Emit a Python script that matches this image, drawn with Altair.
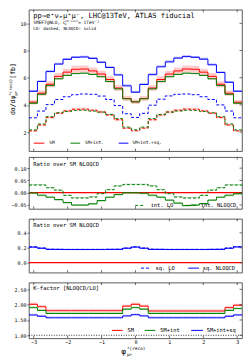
import altair as alt
import numpy as np
import pandas as pd

MONO = "DejaVu Sans Mono"
RED, GREEN, BLUE = "#ff0000", "#008000", "#0000ff"
FRAME = "#333333"

n_bins = 25
edges = np.linspace(-np.pi, np.pi, n_bins + 1)
x_ticks = [-3, -2, -1, 0, 1, 2, 3]

# ---- main panel: dsigma/dphi [fb] ----
sm_nlo = [4.20, 4.86, 5.52, 6.10, 6.41, 6.62, 6.64, 6.50, 6.27, 5.87, 5.24, 4.47, 4.23,
          4.47, 5.24, 5.87, 6.27, 6.50, 6.64, 6.62, 6.41, 6.10, 5.52, 4.86, 4.20]
smint_nlo = [4.12, 4.78, 5.42, 5.92, 6.17, 6.30, 6.33, 6.24, 6.07, 5.72, 5.18, 4.45, 4.22,
             4.45, 5.18, 5.72, 6.07, 6.24, 6.33, 6.30, 6.17, 5.92, 5.42, 4.78, 4.12]
full_nlo = [5.00, 5.72, 6.45, 7.00, 7.35, 7.50, 7.52, 7.42, 7.13, 6.75, 6.20, 5.40, 4.93,
            5.50, 6.22, 6.80, 7.16, 7.44, 7.55, 7.50, 7.36, 6.95, 6.38, 5.66, 5.00]
sm_lo = [2.09, 2.52, 3.07, 3.39, 3.56, 3.68, 3.69, 3.61, 3.48, 3.26, 2.91, 2.29, 2.10,
         2.29, 2.91, 3.26, 3.48, 3.61, 3.69, 3.68, 3.56, 3.39, 3.07, 2.52, 2.09]
smint_lo = [2.16, 2.60, 3.13, 3.42, 3.52, 3.60, 3.61, 3.55, 3.47, 3.30, 2.99, 2.37, 2.17,
            2.37, 2.99, 3.30, 3.47, 3.55, 3.61, 3.60, 3.52, 3.42, 3.13, 2.60, 2.16]
full_lo = [3.05, 3.55, 4.02, 4.40, 4.60, 4.75, 4.80, 4.78, 4.65, 4.40, 3.95, 3.35, 3.08,
           3.38, 3.98, 4.42, 4.66, 4.78, 4.80, 4.75, 4.60, 4.40, 4.00, 3.55, 3.05]
sm_nlo_unc = 0.04     # relative half-width of the NLO scale band
sm_lo_unc = 0.03

# ---- ratio panel: interference over SM NLOQCD ----
int_lo_ratio = [0.031, 0.031, 0.020, 0.010, -0.011, -0.022, -0.022, -0.018, -0.004, 0.012,
                0.027, 0.033, 0.033, 0.033, 0.027, 0.012, -0.004, -0.018, -0.022, -0.022,
                -0.011, 0.010, 0.020, 0.031, 0.031]
int_nlo_ratio = [-0.001, -0.010, -0.018, -0.028, -0.040, -0.050, -0.050, -0.045, -0.032,
                 -0.018, -0.007, 0.000, 0.000, -0.002, -0.010, -0.018, -0.030, -0.042,
                 -0.052, -0.050, -0.044, -0.030, -0.018, -0.010, -0.004]

# ---- ratio panel: squared over SM NLOQCD ----
sq_lo_ratio = [0.212, 0.196, 0.180, 0.179, 0.178, 0.178, 0.178, 0.178, 0.178, 0.179, 0.180,
               0.196, 0.212, 0.196, 0.180, 0.179, 0.178, 0.178, 0.178, 0.178, 0.178, 0.179,
               0.180, 0.196, 0.214]
sq_nlo_ratio = [0.208, 0.193, 0.178, 0.177, 0.176, 0.176, 0.176, 0.176, 0.176, 0.177, 0.178,
                0.193, 0.208, 0.193, 0.178, 0.177, 0.176, 0.176, 0.176, 0.176, 0.176, 0.177,
                0.178, 0.193, 0.210]

# ---- K-factor NLOQCD/LO ----
k_sm = [2.01, 1.93, 1.80, 1.80, 1.80, 1.80, 1.80, 1.80, 1.80, 1.80, 1.80, 1.95, 2.01,
        1.95, 1.79, 1.79, 1.79, 1.79, 1.79, 1.79, 1.79, 1.79, 1.79, 1.90, 1.98]
k_smint = [1.90, 1.81, 1.71, 1.71, 1.71, 1.71, 1.71, 1.71, 1.71, 1.71, 1.71, 1.85, 1.90,
           1.85, 1.71, 1.71, 1.71, 1.71, 1.71, 1.71, 1.71, 1.71, 1.71, 1.81, 1.87]
k_full = [1.66, 1.62, 1.57, 1.57, 1.57, 1.57, 1.57, 1.57, 1.57, 1.57, 1.57, 1.63, 1.67,
          1.63, 1.57, 1.57, 1.57, 1.57, 1.57, 1.57, 1.57, 1.57, 1.57, 1.62, 1.66]

# ---------------- layout ----------------
W = 214
H1, H2, H3, H4 = 142, 52, 54, 56
REFW = 220.6
one = pd.DataFrame({"k": [0]})
xsc = alt.Scale(domain=[-np.pi, np.pi], nice=False, zero=False)


def step(vals):
    v = list(vals)
    return pd.DataFrame({"x": edges, "y": v + [v[-1]]})


def band(lo, hi):
    lo, hi = list(lo), list(hi)
    return pd.DataFrame({"x": edges, "lo": lo + [lo[-1]], "hi": hi + [hi[-1]]})


def px(xref):
    return xref * W / REFW


class Panel:
    def __init__(self, H, ydom, yvals, yfmt, xaxis=False):
        self.H = H
        self.ysc = alt.Scale(domain=ydom, nice=False, zero=False)
        self.yax = alt.Axis(values=yvals, format=yfmt, labelFont=MONO, labelFontSize=5,
                            labelColor="black", tickSize=2, tickColor=FRAME, tickWidth=0.7,
                            domain=False, grid=False, title=None, labelPadding=1)
        if xaxis:
            self.xax = alt.Axis(values=x_ticks, format="d", labelFont=MONO, labelFontSize=5,
                                labelColor="black", ticks=False, domain=False, grid=False,
                                title=None, labelPadding=1)
        else:
            self.xax = None
        self.layers = []
        self.yvals = yvals

    def X(self, f):
        return alt.X(f"{f}:Q", scale=xsc, axis=self.xax)

    def Y(self, f):
        return alt.Y(f"{f}:Q", scale=self.ysc, axis=self.yax)

    def line(self, vals, color, dash=None, width=1.0):
        kw = dict(interpolate="step-after", color=color, strokeWidth=width, clip=True)
        if dash:
            kw["strokeDash"] = dash
        self.layers.append(alt.Chart(step(vals)).mark_line(**kw).encode(x=self.X("x"), y=self.Y("y")))

    def area(self, lo, hi, color, opacity):
        self.layers.append(alt.Chart(band(lo, hi)).mark_area(
            interpolate="step-after", color=color, opacity=opacity, clip=True).encode(
            x=self.X("x"), y=self.Y("lo"), y2="hi:Q"))

    def hline(self, val, color, width=1.0, dash=None):
        kw = dict(color=color, strokeWidth=width)
        if dash:
            kw["strokeDash"] = dash
        self.layers.append(alt.Chart(pd.DataFrame({"v": [val]})).mark_rule(**kw).encode(
            y=self.Y("v"), x=alt.value(0), x2=alt.value(W)))

    def text(self, x, y, s, size, baseline="middle", angle=None, align="left"):
        kw = dict(font=MONO, fontSize=size, align=align, baseline=baseline, color="black")
        if angle is not None:
            kw["angle"] = angle
        self.layers.append(alt.Chart(one).mark_text(**kw).encode(
            x=alt.value(x), y=alt.value(y), text=alt.value(s)))

    def seg(self, x1, x2, y, color, dash=None, width=1.0):
        kw = dict(color=color, strokeWidth=width)
        if dash:
            kw["strokeDash"] = dash
        self.layers.append(alt.Chart(one).mark_rule(**kw).encode(
            x=alt.value(x1), x2=alt.value(x2), y=alt.value(y)))

    def ticks(self):
        H = self.H
        tdf = pd.DataFrame({"t": x_ticks})
        self.layers.append(alt.Chart(tdf).mark_rule(color=FRAME, strokeWidth=0.7).encode(
            x=self.X("t"), y=alt.value(H), y2=alt.value(H - 2.5)))
        self.layers.append(alt.Chart(tdf).mark_rule(color=FRAME, strokeWidth=0.7).encode(
            x=self.X("t"), y=alt.value(0), y2=alt.value(2.5)))
        ydf = pd.DataFrame({"t": self.yvals})
        self.layers.append(alt.Chart(ydf).mark_rule(color=FRAME, strokeWidth=0.7).encode(
            y=self.Y("t"), x=alt.value(W - 2.5), x2=alt.value(W)))

    def chart(self):
        self.ticks()
        return alt.layer(*self.layers).properties(width=W, height=self.H)


# ---- main panel ----
p1 = Panel(H1, [0.6, 11.0], [2, 4, 6, 8, 10], "d")
p1.area([v * (1 - sm_nlo_unc) for v in sm_nlo], [v * (1 + sm_nlo_unc) for v in sm_nlo], RED, 0.2)
p1.area([v * (1 - sm_lo_unc) for v in sm_lo], [v * (1 + sm_lo_unc) for v in sm_lo], RED, 0.15)
p1.area(full_nlo, [v + 0.1 for v in full_nlo], BLUE, 0.3)
p1.area(smint_nlo, [v + 0.05 for v in smint_nlo], GREEN, 0.3)
p1.line(sm_lo, RED, dash=[3, 2])
p1.line(smint_lo, GREEN, dash=[3, 2])
p1.line(full_lo, BLUE, dash=[3, 2])
p1.line(sm_nlo, RED)
p1.line(smint_nlo, GREEN)
p1.line(full_nlo, BLUE)
p1.text(px(4.5), 6, "pp→e⁺νₑμ⁺μ⁻, LHC@13TeV, ATLAS fiducial", 7.1)
p1.text(px(4.5), 13.3, "SMEFT@NLO, c", 4.5)
p1.text(px(37.0), 11.3, "(CP-even)", 2.6)
p1.text(px(37.0), 14.8, "W", 2.6)
p1.text(px(51.0), 13.3, "= 1TeV⁻²", 4.5)
p1.text(px(4.5), 19.3, "LO: dashed, NLOQCD: solid", 4.2)
ly1 = H1 - 8
p1.seg(px(5), px(16), ly1, RED)
p1.text(px(21), ly1, "SM", 4.5)
p1.seg(px(43), px(53), ly1, GREEN)
p1.text(px(58), ly1, "SM+int.", 4.5)
p1.seg(px(93), px(103), ly1, BLUE)
p1.text(px(107), ly1, "SM+int.+sq.", 4.5)
# rotated y title
yb = 0.745 * H1
bx = -14
p1.text(bx, yb, "dσ/dφ", 6.5, baseline="alphabetic", angle=270)
p1.text(bx - 2.6, yb - 19.6, "*(reco)", 4.0, baseline="alphabetic", angle=270)
p1.text(bx + 1.8, yb - 19.6, "μ+", 4.0, baseline="alphabetic", angle=270)
p1.text(bx, yb - 36.5, " [fb]", 6.5, baseline="alphabetic", angle=270)
c1 = p1.chart()

# ---- interference ratio panel ----
p2 = Panel(H2, [-0.066, 0.145], [-0.05, 0.0, 0.05, 0.10], ".2f")
p2.area(int_lo_ratio, [v + 0.003 for v in int_lo_ratio], GREEN, 0.35)
p2.area([v - 0.004 for v in int_nlo_ratio], int_nlo_ratio, GREEN, 0.35)
p2.hline(0.0, RED, width=1.3)
p2.line(int_lo_ratio, GREEN, dash=[3, 2])
p2.line(int_nlo_ratio, GREEN)
p2.text(px(4.5), 7, "Ratio over SM NLOQCD", 5.5)
ly2 = H2 - 3.5
p2.seg(px(110), px(120), ly2, GREEN, dash=[3, 2])
p2.text(px(126), ly2, "int. LO", 5.4)
p2.seg(px(163), px(173), ly2, GREEN)
p2.text(px(178), ly2, "int. NLOQCD", 5.4)
c2 = p2.chart()

# ---- squared ratio panel ----
p3 = Panel(H3, [-0.133, 0.587], [0.0, 0.2, 0.4], ".1f")
p3.area(sq_nlo_ratio, [v + 0.012 for v in sq_nlo_ratio], BLUE, 0.25)
p3.hline(0.0, RED, width=1.3)
p3.line(sq_lo_ratio, BLUE, dash=[3, 2])
p3.line(sq_nlo_ratio, BLUE)
p3.text(px(4.5), 6, "Ratio over SM NLOQCD", 5.5)
ly3 = H3 - 4.5
p3.seg(px(116), px(125), ly3, BLUE, dash=[3, 2])
p3.text(px(131), ly3, "sq. LO", 5.4)
p3.seg(px(165), px(176), ly3, BLUE)
p3.text(px(180), ly3, "sq. NLOQCD", 5.4)
c3 = p3.chart()

# ---- K-factor panel ----
p4 = Panel(H4, [0.9, 2.72], [1.0, 1.5, 2.0, 2.5], ".2f", xaxis=True)
p4.area(k_sm, [v + 0.05 for v in k_sm], RED, 0.25)
p4.area(k_smint, [v + 0.04 for v in k_smint], GREEN, 0.3)
p4.area(k_full, [v + 0.04 for v in k_full], BLUE, 0.25)
p4.hline(1.0, "black", width=0.8, dash=[1, 1.5])
p4.line(k_sm, RED)
p4.line(k_smint, GREEN)
p4.line(k_full, BLUE)
p4.text(px(4.5), 5.7, "K-factor [NLOQCD/LO]", 5.5)
ly4 = H4 - 8
p4.seg(px(86), px(97), ly4, RED)
p4.text(px(102), ly4, "SM", 5.4)
p4.seg(px(120), px(131), ly4, GREEN)
p4.text(px(136), ly4, "SM+int", 5.4)
p4.seg(px(168), px(180), ly4, BLUE)
p4.text(px(184), ly4, "SM+int+sq", 5.4)
# x title
p4.text(px(98), H4 + 14, "φ", 8, align="center")
p4.text(px(101.5), H4 + 10.5, "*(reco)", 4.4)
p4.text(px(101.5), H4 + 17, "μ+", 4.4)
c4 = p4.chart()

inner = alt.vconcat(c2, c3, c4, spacing=8)
chart = alt.vconcat(c1, inner, spacing=4).configure_view(
    stroke=FRAME, strokeWidth=0.8).properties(padding=0, background="white")

chart.save("out.html", embed_options={"renderer": "svg", "actions": False})
